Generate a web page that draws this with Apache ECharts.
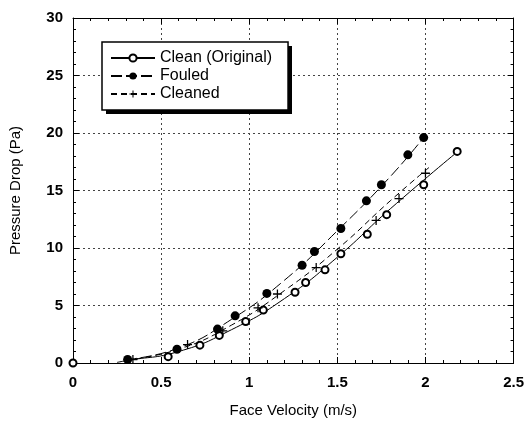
<!DOCTYPE html>
<html>
<head>
<meta charset="utf-8">
<style>
  html, body { margin: 0; padding: 0; background: #fff; }
  #chart { width: 527px; height: 423px; }
</style>
<script src="https://cdn.jsdelivr.net/npm/echarts@6/dist/echarts.min.js"></script>
</head>
<body>
<div id="chart"></div>
<script>
// measured points, [face velocity m/s, pressure drop Pa]
const cleanPoints = [
  [0, 0], [0.54, 0.55], [0.72, 1.55], [0.83, 2.4], [0.98, 3.6], [1.08, 4.6],
  [1.26, 6.15], [1.32, 7.0], [1.43, 8.1], [1.52, 9.5], [1.67, 11.2],
  [1.78, 12.9], [1.99, 15.5], [2.18, 18.4]
]
const fouledPoints = [
  [0.31, 0.3], [0.59, 1.2], [0.82, 2.95], [0.92, 4.1], [1.1, 6.05], [1.3, 8.5],
  [1.37, 9.7], [1.52, 11.7], [1.665, 14.1], [1.75, 15.5], [1.9, 18.1], [1.99, 19.6]
]
const cleanedPoints = [
  [0.34, 0.3], [0.65, 1.6], [0.85, 2.8], [1.05, 4.8], [1.16, 6.0], [1.38, 8.3],
  [1.72, 12.4], [1.85, 14.3], [2.0, 16.5]
]

// fitted curves
const cleanFit = [[0.25, 0.05], [0.3, 0.2], [0.6, 1.0], [0.9, 2.9], [1.2, 5.6], [1.5, 9.2], [1.8, 13.4], [2.2, 18.6]]
const fouledFit = [[0.3, 0.3], [0.6, 1.3], [0.9, 3.8], [1.2, 7.2], [1.5, 11.5], [1.8, 16.2], [2.0, 19.8]]
const cleanedFit = [[0.3, 0.25], [0.6, 1.2], [0.9, 3.3], [1.2, 6.3], [1.5, 9.9], [1.8, 14.1], [2.02, 17.0]]

const seriesNames = ['Clean (Original)', 'Fouled', 'Cleaned']
const xTicks = { min: 0, max: 2.5, interval: 0.5 }
const yTicks = { min: 0, max: 30, interval: 5 }

const ink = '#000'
const font = 'Liberation Sans, Arial, sans-serif'
const plusSymbol = 'path://M4.3,0h1.4v10h-1.4zM0,4.3h10v1.4h-10z'

const chart = echarts.init(document.getElementById('chart'), null, { renderer: 'canvas' })

const axisCommon = (withLabels, withGrid) => ({
  type: 'value',
  axisLine: { show: true, onZero: false, lineStyle: { color: ink, width: 1 } },
  axisTick: { show: true, inside: true, length: 6, lineStyle: { color: ink } },
  minorTick: { show: true, splitNumber: 5, length: 3, lineStyle: { color: ink } },
  splitLine: withGrid
    ? { show: true, lineStyle: { color: '#444', type: [2, 3], width: 1 } }
    : { show: false },
  axisLabel: withLabels
    ? { show: true, color: ink, fontSize: 15, fontWeight: 'bold', fontFamily: font }
    : { show: false },
})

const fitLine = (name, data, dash, symbol, size) => ({
  type: 'line',
  name,
  data,
  smooth: true,
  symbol,
  symbolSize: size,
  showSymbol: false,
  silent: true,
  color: ink,
  lineStyle: { color: ink, width: 1, type: dash },
  z: 2,
})

const markers = (name, data, symbol, size) => ({
  type: 'scatter',
  name,
  data,
  symbol,
  symbolSize: size,
  clip: false,
  itemStyle: { color: ink, opacity: 1, borderWidth: symbol === 'emptyCircle' ? 0.9 : 0 },
  z: 3,
})

const legendBox = { left: 102, top: 42, width: 186, height: 68 }

chart.setOption({
  animation: false,
  backgroundColor: '#fff',
  textStyle: { fontFamily: font },
  grid: { left: 73, right: 10, top: 18, bottom: 60 },
  // drop shadow behind the legend frame
  graphic: [{
    type: 'rect',
    left: legendBox.left + 4,
    top: legendBox.top + 4,
    z: 5,
    shape: { width: legendBox.width, height: legendBox.height },
    style: { fill: ink },
    silent: true,
  }],
  legend: {
    data: seriesNames,
    orient: 'vertical',
    left: legendBox.left,
    top: legendBox.top,
    z: 10,
    itemWidth: 44,
    itemHeight: 9,
    itemGap: 2,
    padding: [8, 16, 8, 8],
    backgroundColor: '#fff',
    borderColor: ink,
    borderWidth: 1.5,
    textStyle: { color: ink, fontSize: 16, fontFamily: font },
  },
  xAxis: [
    {
      ...axisCommon(true, true),
      ...xTicks,
      position: 'bottom',
      name: 'Face Velocity (m/s)',
      nameLocation: 'middle',
      nameGap: 40,
      nameTextStyle: { color: ink, fontSize: 15, fontFamily: font },
      axisLabel: { ...axisCommon(true, true).axisLabel, margin: 12 },
    },
    { ...axisCommon(false, false), ...xTicks, position: 'top' },
  ],
  yAxis: [
    {
      ...axisCommon(true, true),
      ...yTicks,
      position: 'left',
      name: 'Pressure Drop (Pa)',
      nameLocation: 'middle',
      nameGap: 50,
      nameTextStyle: { color: ink, fontSize: 15, fontFamily: font },
      axisLabel: { ...axisCommon(true, true).axisLabel, margin: 10 },
    },
    { ...axisCommon(false, false), ...yTicks, position: 'right' },
  ],
  series: [
    fitLine(seriesNames[0], cleanFit, 'solid', 'emptyCircle', 7),
    fitLine(seriesNames[1], fouledFit, [11, 4], 'circle', 9),
    fitLine(seriesNames[2], cleanedFit, [6, 4], plusSymbol, 8),
    markers(seriesNames[0], cleanPoints, 'emptyCircle', 7),
    markers(seriesNames[1], fouledPoints, 'circle', 9),
    markers(seriesNames[2], cleanedPoints, plusSymbol, 9),
  ],
})
</script>
</body>
</html>
